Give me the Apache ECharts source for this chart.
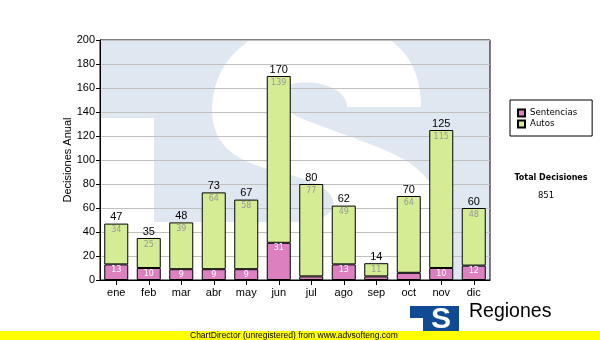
<!DOCTYPE html>
<html>
<head>
<meta charset="utf-8">
<script src="https://cdn.jsdelivr.net/npm/echarts@6/dist/echarts.min.js"></script>
<style>
  html, body { margin: 0; padding: 0; background: #fff; }
  #chart { width: 600px; height: 340px; }
</style>
</head>
<body>
<div id="chart"></div>
<script>
// Monthly decisions, split by type
const months = ['ene', 'feb', 'mar', 'abr', 'may', 'jun', 'jul', 'ago', 'sep', 'oct', 'nov', 'dic'];
const sentencias = [13, 10, 9, 9, 9, 31, 3, 13, 3, 6, 10, 12];
const autos = [34, 25, 39, 64, 58, 139, 77, 49, 11, 64, 115, 48];
const yMin = 0, yMax = 200, yStep = 20;

const totals = months.map((_, i) => sentencias[i] + autos[i]);
const grandTotal = totals.reduce((a, b) => a + b, 0);

const AXIS_FONT = 'Liberation Sans, Arial, sans-serif';
const SMALL_FONT = 'DejaVu Sans, Verdana, sans-serif';

const chart = echarts.init(document.getElementById('chart'), null, { renderer: 'canvas' });

// Turn a list of line / cubic segments into polygon points
function outline(start, segs) {
  const pts = [start];
  let cur = start;
  segs.forEach(s => {
    if (s.length === 1) { pts.push(s[0]); cur = s[0]; return; }
    const [c1, c2, end] = s;
    for (let k = 1; k <= 16; k++) {
      const t = k / 16, u = 1 - t;
      pts.push([
        u * u * u * cur[0] + 3 * u * u * t * c1[0] + 3 * u * t * t * c2[0] + t * t * t * end[0],
        u * u * u * cur[1] + 3 * u * u * t * c1[1] + 3 * u * t * t * c2[1] + t * t * t * end[1]
      ]);
    }
    cur = end;
  });
  return pts;
}

// White "S" of the faded logo behind the plot
const sShape = outline([347, 107], [
  [[421, 107]],
  [[421, 60], [395, 22], [320, 22]],
  [[250, 22], [212, 62], [212, 110]],
  [[212, 145], [235, 162], [280, 172]],
  [[310, 180], [330, 188], [333, 200]],
  [[336, 215], [320, 222], [290, 222]],
  [[154, 222]],
  [[154, 280]],
  [[440, 280]],
  [[446, 260], [448, 235], [440, 205]],
  [[432, 175], [410, 160], [380, 148]],
  [[340, 132], [300, 120], [290, 112]],
  [[278, 105], [278, 88], [292, 84]],
  [[315, 78], [347, 88], [347, 107]]
]);

const WM_BLUE = '#dfe8f1';
const watermark = [
  { type: 'rect', z: -20, shape: { x: 100, y: 40, width: 390, height: 240 }, style: { fill: WM_BLUE } },
  { type: 'rect', z: -19, shape: { x: 100, y: 118, width: 54, height: 162 }, style: { fill: '#ffffff' } },
  { type: 'polygon', z: -19, shape: { points: sShape }, style: { fill: '#ffffff' } }
];

const footer = [
  { type: 'rect', shape: { x: 0, y: 331, width: 600, height: 9 }, style: { fill: '#ffff00' }, z: 10 },
  {
    type: 'text', z: 11, left: 190, top: 331,
    style: { text: 'ChartDirector (unregistered) from www.advsofteng.com', font: '8.5px ' + AXIS_FONT, fill: '#000' }
  },
  { type: 'rect', z: 5, shape: { x: 410, y: 306, width: 49, height: 30 }, style: { fill: '#0f4a92' } },
  { type: 'rect', z: 6, shape: { x: 410, y: 318, width: 13, height: 18 }, style: { fill: '#ffffff' } },
  {
    type: 'text', z: 7, x: 441, y: 320,
    style: { text: 'S', font: 'bold 30px ' + AXIS_FONT, fill: '#ffffff', align: 'center', verticalAlign: 'middle' }
  },
  {
    type: 'text', z: 7, x: 469, y: 322,
    style: { text: 'Regiones', font: '19.5px ' + AXIS_FONT, fill: '#000', verticalAlign: 'bottom' }
  },
  {
    type: 'text', z: 7, x: 551, y: 178,
    style: { text: 'Total Decisiones', font: 'bold 8px ' + SMALL_FONT, fill: '#000', align: 'center', verticalAlign: 'middle' }
  },
  {
    type: 'text', z: 7, x: 546, y: 196,
    style: { text: String(grandTotal), font: '8.5px ' + SMALL_FONT, fill: '#000', align: 'center', verticalAlign: 'middle' }
  }
];

const option = {
  animation: false,
  backgroundColor: '#ffffff',
  grid: {
    left: 100, top: 40, width: 390, height: 240,
    show: true, borderColor: '#000', borderWidth: 1, backgroundColor: 'transparent'
  },
  legend: {
    orient: 'vertical',
    left: 510, top: 100,
    data: ['Sentencias', 'Autos'],
    icon: 'rect',
    itemWidth: 7, itemHeight: 7, itemGap: 1,
    padding: [8, 15, 7, 7],
    backgroundColor: '#fff',
    borderColor: '#000', borderWidth: 1, borderRadius: 0,
    textStyle: { fontFamily: SMALL_FONT, fontSize: 8.6, color: '#000', lineHeight: 10 }
  },
  xAxis: {
    type: 'category',
    data: months,
    boundaryGap: true,
    axisLine: { show: true, lineStyle: { color: '#000', width: 1 } },
    axisTick: { show: true, alignWithLabel: true, length: 5, lineStyle: { color: '#000' } },
    axisLabel: { fontFamily: AXIS_FONT, fontSize: 11, color: '#000', margin: 7 },
    splitLine: { show: false }
  },
  yAxis: {
    type: 'value',
    min: yMin, max: yMax, interval: yStep,
    name: 'Decisiones Anual',
    nameLocation: 'middle',
    nameGap: 27,
    nameMoveOverlap: false,
    nameTextStyle: { fontFamily: AXIS_FONT, fontSize: 11, color: '#000' },
    axisLine: { show: true, lineStyle: { color: '#000', width: 1 } },
    axisTick: { show: true, length: 4, lineStyle: { color: '#000' } },
    axisLabel: { fontFamily: AXIS_FONT, fontSize: 11, color: '#000', margin: 5 },
    splitLine: { show: true, lineStyle: { color: '#c0c0c0', width: 1 } }
  },
  graphic: { elements: watermark.concat(footer) },
  series: [
    {
      name: 'Sentencias',
      type: 'bar',
      stack: 'dec',
      data: sentencias,
      barWidth: 24,
      itemStyle: { color: '#dd80c0', borderColor: '#000', borderWidth: 1 },
      label: {
        show: true, position: 'insideTop', distance: 1,
        fontFamily: SMALL_FONT, fontSize: 8, color: '#ffffff', lineHeight: 9,
        formatter: p => (p.value >= 9 ? String(p.value) : '')
      }
    },
    {
      name: 'Autos',
      type: 'bar',
      stack: 'dec',
      data: autos,
      barWidth: 24,
      itemStyle: { color: '#d4ec94', borderColor: '#000', borderWidth: 1 },
      label: {
        show: true, position: 'insideTop', distance: 2,
        fontFamily: SMALL_FONT, fontSize: 8, color: '#999999', lineHeight: 9,
        formatter: p => String(p.value)
      }
    },
    {
      name: 'Total',
      type: 'bar',
      stack: 'dec',
      data: totals.map(() => 0),
      barWidth: 24,
      itemStyle: { color: 'transparent', borderWidth: 0 },
      label: {
        show: true, position: 'top', distance: 1,
        fontFamily: AXIS_FONT, fontSize: 11, color: '#000',
        formatter: p => String(totals[p.dataIndex])
      },
      silent: true
    }
  ]
};

chart.setOption(option);
</script>
</body>
</html>
